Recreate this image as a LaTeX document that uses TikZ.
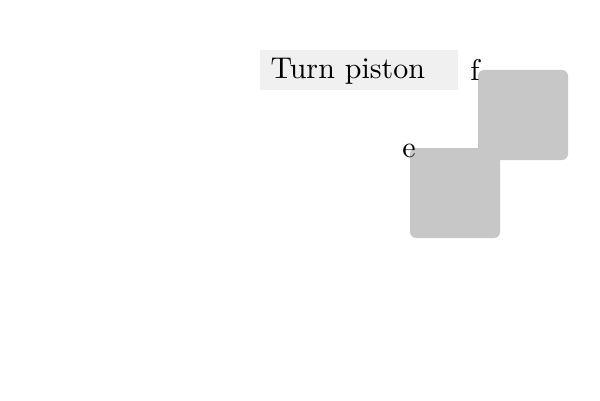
\documentclass[tikz,border=0pt]{standalone}
\begin{document}
\begin{tikzpicture}[x=0.3333pt,y=-0.3333pt,
  titlebox/.style={fill=black!6,draw=none,inner sep=0pt},
  piece/.style={fill=black!22,draw=none,rounded corners=2pt},
  cornerlbl/.style={inner sep=0pt,anchor=center}]
\useasboundingbox (0,0) rectangle (600,400);
\fill[titlebox] (260,50) rectangle (458,90);
\node[anchor=base west,inner sep=0pt] (title) at (270,79) {Turn piston};
\path[piece] (410,148) rectangle (500,238);
\coordinate (ecorner) at (410,148);
\path[piece] (478,70) rectangle (568,160);
\coordinate (fcorner) at (478,70);
\node[cornerlbl] (elabel) at (409,151) {e};
\node[cornerlbl] (flabel) at (475,70) {f};
\end{tikzpicture}
\end{document}
